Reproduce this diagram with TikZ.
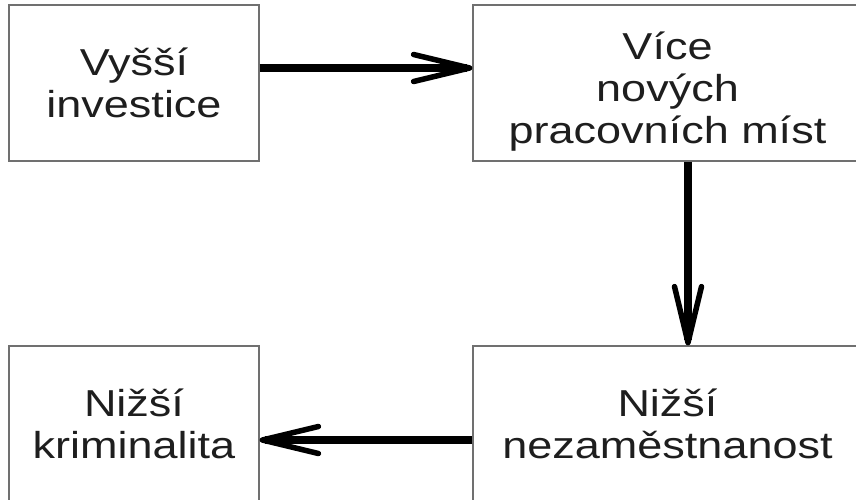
\documentclass[tikz,border=0pt]{standalone}
\usepackage{fontspec}
\setmainfont{Liberation Sans}[FakeStretch=1.2]
\usetikzlibrary{arrows.meta}
\definecolor{boxline}{HTML}{707070}
\definecolor{txt}{HTML}{1E1E1E}
\begin{document}
\begin{tikzpicture}[x=1pt,y=-1pt,
  box/.style={draw=boxline,line width=1.3pt,rectangle,minimum height=156pt,
    inner sep=0pt,align=center,text=txt,font=\fontsize{37.5}{42}\selectfont},
  conn/.style={line width=7.5pt,
    -{Straight Barb[length=56pt,width=27pt,line width=5.5pt,round]}}]
\useasboundingbox (0,0) rectangle (856,499);
\node[box,minimum width=250pt] (inv) at (134,83) {Vyšší\\investice};
\node[box,minimum width=389pt] (mist) at (667.5,83) {\rule{0pt}{44pt}Více\\nových\\pracovních míst};
\node[box,minimum width=250pt] (krim) at (134,424) {Nižší\\kriminalita};
\node[box,minimum width=389pt] (nez) at (667.5,424) {Nižší\\nezaměstnanost};
\draw[conn] (inv.east |- 0,68) -- (mist.west |- 0,68);
\draw[conn] (mist.south -| 688,0) -- (nez.north -| 688,0);
\draw[conn] (nez.west |- 0,440) -- (krim.east |- 0,440);
\end{tikzpicture}
\end{document}
